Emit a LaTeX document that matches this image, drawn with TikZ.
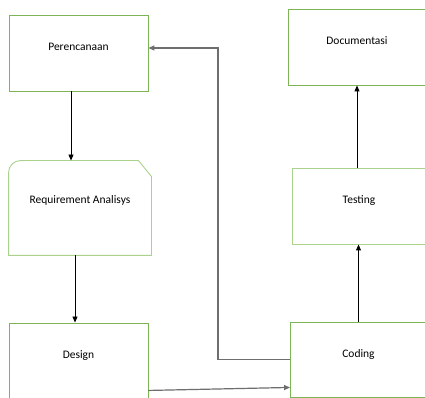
\documentclass[tikz,border=0pt]{standalone}
\usepackage{fontspec}
\setmainfont{Carlito}
\usetikzlibrary{positioning,arrows.meta}
\definecolor{boxgreen}{RGB}{125,180,85}
\definecolor{palegreen}{RGB}{170,210,140}
\definecolor{lineGray}{RGB}{110,110,110}

\begin{document}
\begin{tikzpicture}[x=1pt, y=1pt,
  phase/.style={draw=boxgreen, line width=0.9pt, fill=white, font=\fontsize{11.5}{13}\selectfont,
                minimum width=139pt, minimum height=76pt, text depth=12pt, inner sep=0pt},
  arr/.style={-{Triangle[length=6pt, width=5pt]}, line width=0.9pt},
  back/.style={-{Triangle[length=6pt, width=5pt]}, line width=1.2pt, draw=lineGray}]
\useasboundingbox (0,0) rectangle (425,398);
\clip (0,0) rectangle (425,398);
\fill[white] (0,0) rectangle (425,398);
\node[phase] (plan) at (78.5,345) {Perencanaan};
\node[phase, draw=none, fill=none, minimum width=142pt, minimum height=94pt, text depth=16pt] (req) at (80,190) {Requirement Analisys};
\draw[palegreen, line width=0.9pt] (req.south west) -- ([yshift=-12pt]req.north west)
  arc[start angle=180, end angle=90, radius=12pt] -- ([xshift=-13pt]req.north east)
  -- ([yshift=-16pt]req.north east) -- (req.south east) -- cycle;
\node[phase] (design) at (78.5,37) {Design};
\node[phase, minimum width=136pt, minimum height=75pt] (coding) at (358.5,38.5) {Coding};
\node[phase, draw=palegreen, minimum width=134pt] (testing) at (359,192) {Testing};
\node[phase, minimum width=138pt] (docu) at (357,351) {Documentasi};
\coordinate (turn) at (218,200);
\draw[arr] ([xshift=-7.5pt]plan.south) -- ([xshift=-9pt]req.north);
\draw[arr] ([xshift=-5pt]req.south) -- ([xshift=-3.5pt]design.north);
\draw[back] ([yshift=9pt]design.south east) -- ([yshift=10pt]coding.south west);
\draw[arr] (coding.north) -- (coding.north |- testing.south);
\draw[arr] ([xshift=-2pt]testing.north) -- (docu.south);
\draw[back] (coding.west) -| ([yshift=5pt]plan.east -| turn) -- ([yshift=5pt]plan.east);
\end{tikzpicture}
\end{document}
